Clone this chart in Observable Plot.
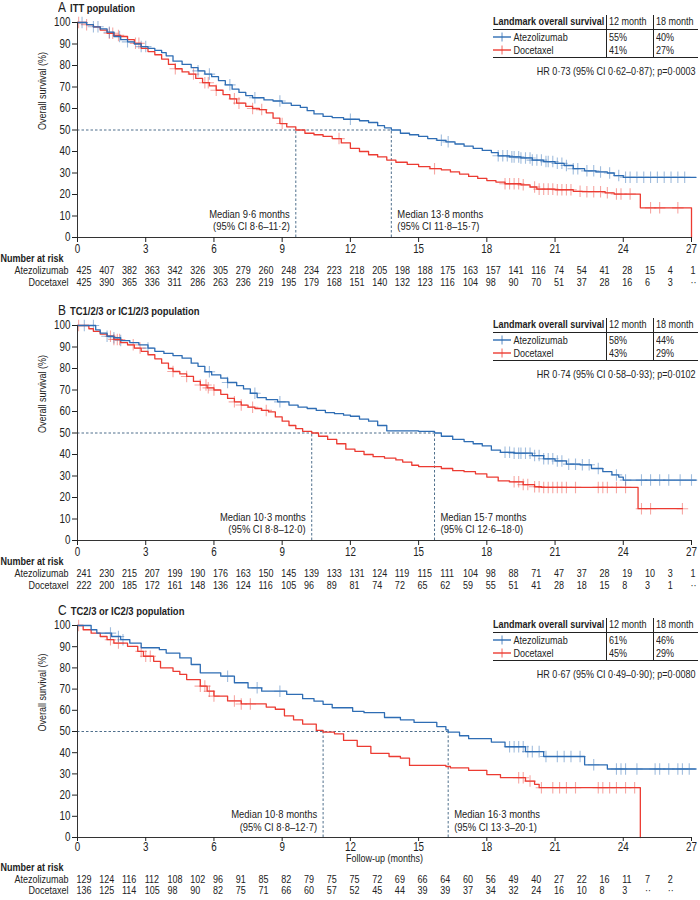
<!DOCTYPE html>
<html><head><meta charset="utf-8">
<script src="https://cdn.jsdelivr.net/npm/d3@7"></script>
<script src="https://cdn.jsdelivr.net/npm/@observablehq/plot@0.6"></script>
<style>
body{margin:0;background:#fff;}
#chart{width:700px;font-family:"Liberation Sans",Arial,sans-serif;color:#222;}
.panel{position:relative;width:700px;}
.panel > svg{display:block;}
.ttl{position:absolute;top:0;font-weight:bold;font-size:11.5px;line-height:14px;white-space:nowrap;transform:scaleX(0.82);transform-origin:left center;}
.ttl .lt{font-size:14.5px;font-weight:normal;margin-right:5px;}
.cell{position:absolute;font-size:11px;line-height:13px;white-space:nowrap;transform:scaleX(0.82);transform-origin:left center;}
.cell.r{transform-origin:right center;}
.cell svg{display:inline-block;}
.hl{position:absolute;background:#222;height:1px;}
.vl{position:absolute;background:#222;width:1px;}
</style></head><body><div id="chart"></div>
<script>
// ---------- shared categories / ticks ----------
const months = [0,1,2,3,4,5,6,7,8,9,10,11,12,13,14,15,16,17,18,19,20,21,22,23,24,25,26,27];
const xTicks = [0,3,6,9,12,15,18,21,24,27];
const yTicks = [0,10,20,30,40,50,60,70,80,90,100];
const arms = ["Atezolizumab","Docetaxel"];
const landmarkCols = ["12 month","18 month"];

// ---------- Panel A: ITT population ----------
const atezoCurveA = [[0,100],[0.4,99],[0.7,98],[1.0,97],[1.3,95.5],[1.6,93.5],[1.9,92],[2.2,91],[2.5,90],[2.8,88.8],[3.1,88],[3.4,87],[3.7,86],[3.9,84.5],[4.2,82],[4.6,80.5],[5.0,79],[5.3,77.5],[5.6,76],[5.9,74.8],[6.2,73],[6.5,71],[6.8,69],[7.1,67.5],[7.4,66],[7.7,65],[8.2,64],[8.6,63.5],[9.0,62.5],[9.4,61.5],[9.8,60.5],[10.1,59],[10.4,57.5],[10.8,56.3],[11.2,55.8],[11.7,55],[12.4,54.3],[12.8,53.5],[13.2,52],[13.5,51],[13.8,50],[14.2,48.5],[14.6,47.8],[15.0,47],[15.4,46],[15.8,45.2],[16.2,44.5],[16.6,43.5],[17.0,42.5],[17.4,41.5],[17.8,40.5],[18.2,39.5],[18.5,38],[19.0,37.5],[19.5,37],[20.0,36],[20.5,35.3],[21.0,34.5],[21.4,33.5],[21.8,32],[22.3,31],[22.8,30.5],[23.3,30],[23.6,28.8],[24.0,28],[27.2,28]];
const doceCurveA = [[0,100],[0.4,99],[0.7,98],[1.0,96.5],[1.3,95],[1.6,94],[1.9,93.5],[2.2,92],[2.5,90.3],[2.8,88],[3.1,86.5],[3.4,85],[3.7,83],[4.0,80.5],[4.3,78.5],[4.6,77],[4.9,76],[5.2,74],[5.5,72],[5.8,70.5],[6.1,68.5],[6.4,66.5],[6.7,64.5],[7.0,62.5],[7.4,61],[7.7,60],[8.0,59.5],[8.3,58],[8.6,55.5],[8.9,53],[9.2,51.5],[9.6,50],[10.0,48.5],[10.4,47.8],[10.8,47],[11.2,46],[11.6,44],[12.0,41.5],[12.4,40],[12.8,38.5],[13.2,37.5],[13.6,36],[14.0,35],[14.5,34],[15.0,33],[15.5,32],[16.0,31.5],[16.4,30.5],[16.8,29.5],[17.2,28.4],[17.6,27.5],[18.0,26.5],[18.4,25.8],[18.8,25],[19.5,24.5],[19.9,23.5],[20.2,22.5],[21.0,22.2],[21.8,21.5],[22.2,21.3],[23.2,20.8],[23.6,20.2],[24.75,13.8],[27.0,0]];
const atezoCensorA = [0.2,0.7,0.9,1.4,1.85,2.2,2.8,3.0,5.3,5.8,6.7,7.8,8.9,12.0,16.0,16.3,18.5,18.7,18.9,19.1,19.2,19.4,19.5,19.7,19.9,20.0,20.2,20.4,20.6,20.7,20.9,21.1,21.3,21.5,21.8,22.0,22.4,22.7,23.0,23.4,23.8,24.1,24.3,24.6,24.9,25.2,25.5,25.8,26.1,26.4,26.7];
const doceCensorA = [0.05,0.4,1.4,1.55,1.8,2.55,2.7,4.3,5.1,5.6,5.75,6.1,6.9,7.1,7.7,8.1,9.0,11.5,15.7,18.8,19.0,19.2,19.4,19.6,20.1,20.3,20.5,20.7,20.9,21.1,21.3,21.5,21.7,22.1,22.4,22.7,23.0,23.3,23.7,23.9,24.3,25.2,25.6,26.4];
const atezoNarA = ["425","407","382","363","342","326","305","279","260","248","234","223","218","205","198","188","175","163","157","141","116","74","54","41","28","15","4","1"];
const doceNarA = ["425","390","365","336","311","286","263","236","219","195","179","168","151","140","132","123","116","104","98","90","70","51","37","28","16","6","3","··"];
const medianA = [13.8, 9.6];
const medianTextA = [["Median 13·8 months","(95% CI 11·8–15·7)"],["Median 9·6 months","(95% CI 8·6–11·2)"]];
const landmarkA = [["55%","40%"],["41%","27%"]];
const hrA = "HR 0·73 (95% CI 0·62–0·87); p=0·0003";

// ---------- Panel B: TC1/2/3 or IC1/2/3 ----------
const atezoCurveB = [[0,100],[0.8,98],[1.0,96.5],[1.3,95],[1.6,94.3],[1.9,93],[2.3,92],[2.7,91],[3.1,89.5],[3.4,88],[3.8,87],[4.2,86],[4.6,84.8],[5.0,82.5],[5.3,81],[5.6,78.5],[5.9,77],[6.3,75.5],[6.6,73.5],[7.0,72],[7.3,70.5],[7.6,68.5],[7.9,66.5],[8.3,65.5],[8.8,64.5],[9.3,63],[9.7,62],[10.1,61.4],[10.5,60.5],[10.9,59.5],[11.3,59],[11.7,58.3],[12.0,57.8],[12.4,56.5],[12.8,55.5],[13.2,53.5],[13.6,51],[15.0,50.8],[15.7,50],[16.0,48.5],[16.5,47],[17.0,46],[17.4,45],[17.8,44],[18.2,42],[18.6,41],[19.2,40.6],[20.0,39.5],[20.5,38],[21.0,37],[21.5,35.5],[22.1,35.2],[22.6,33.5],[23.1,32],[23.5,30.5],[23.8,29.5],[24.0,28.1],[27.2,28.1]];
const doceCurveB = [[0,100],[0.5,98.5],[0.7,97.3],[1.0,96],[1.3,95],[1.6,93.5],[1.9,92],[2.2,91],[2.5,89.5],[2.8,88],[3.1,86.4],[3.4,84.5],[3.7,82.5],[4.0,80],[4.2,78.6],[4.5,77.5],[4.8,76.3],[5.1,74],[5.4,72.3],[5.7,71],[6.0,70],[6.3,68],[6.6,66.1],[6.9,64.5],[7.2,63],[7.5,62],[7.8,61.4],[8.1,60.5],[8.4,59.8],[8.7,57.5],[9.0,55.5],[9.3,53.5],[9.6,52],[9.9,50.8],[10.3,50],[10.6,48.5],[11.0,47],[11.4,45],[11.8,42.5],[12.2,41.5],[12.6,40],[13.0,39],[13.5,38.3],[14.0,37.5],[14.3,36.5],[14.7,35],[15.0,34.4],[16.0,33.5],[16.5,32.5],[17.0,32],[17.5,31],[18.0,29.5],[18.5,27.7],[19.0,27.3],[19.6,26],[20.1,25],[20.4,24.7],[24.65,14.8],[26.6,14.8]];
const atezoCensorB = [0.3,0.7,1.3,1.6,1.9,3.1,5.8,6.6,7.8,8.9,18.8,19.0,19.2,19.4,19.5,19.7,19.9,20.1,20.3,20.5,20.7,20.9,21.1,21.3,21.6,21.9,22.2,22.5,22.9,23.7,24.1,24.8,25.2,25.6,26.0,26.5,27.0];
const doceCensorB = [0.05,1.45,1.6,1.75,1.85,2.45,2.75,4.2,4.8,5.4,5.65,5.75,6.0,6.9,7.2,7.7,8.3,19.2,19.4,19.6,19.8,20.1,20.3,20.5,20.7,20.9,21.1,21.3,21.5,21.9,22.9,23.1,23.3,23.7,24.1,24.8,25.2,26.6];
const atezoNarB = ["241","230","215","207","199","190","176","163","150","145","139","133","131","124","119","115","111","104","98","88","71","47","37","28","19","10","3","1"];
const doceNarB = ["222","200","185","172","161","148","136","124","116","105","96","89","81","74","72","65","62","59","55","51","41","28","18","15","8","3","1","··"];
const medianB = [15.7, 10.3];
const medianTextB = [["Median 15·7 months","(95% CI 12·6–18·0)"],["Median 10·3 months","(95% CI 8·8–12·0)"]];
const landmarkB = [["58%","44%"],["43%","29%"]];
const hrB = "HR 0·74 (95% CI 0·58–0·93); p=0·0102";

// ---------- Panel C: TC2/3 or IC2/3 ----------
const atezoCurveC = [[0,100],[0.6,98],[0.85,96.4],[1.5,94.8],[1.9,93.3],[2.3,91.7],[2.8,89.5],[3.6,88.6],[3.9,87],[4.5,84.7],[5.0,81.6],[5.4,77.7],[6.3,76.1],[6.9,73],[7.5,70.6],[8.1,69],[9.2,67.5],[9.9,65.5],[10.4,64.3],[10.8,62.8],[11.2,61.2],[12.1,59.5],[12.6,58.9],[13.5,56.6],[14.2,55.5],[14.8,54.3],[15.8,52.3],[16.2,50.8],[16.3,49.7],[16.8,48],[17.2,46.6],[18.2,45],[18.8,42.8],[19.7,40.5],[20.5,38.2],[22.3,34.3],[23.3,32.3],[27.2,32.3]];
const doceCurveC = [[0,100],[0.25,98],[0.6,96.4],[1.0,94.8],[1.3,93.3],[1.6,91.7],[2.2,90.2],[2.65,87.8],[2.9,85.5],[3.35,83.1],[3.65,80],[4.2,78.4],[4.5,76.9],[4.8,74.5],[5.4,71.4],[5.7,69],[6.0,66.7],[6.6,64.4],[7.2,63],[8.3,61.5],[8.7,60.5],[9.1,57.4],[9.5,55.5],[9.9,53.5],[10.5,50.5],[10.8,49.7],[11.3,48.9],[11.7,45.8],[12.3,43],[12.9,39.7],[13.7,38.2],[14.2,37.4],[14.6,34],[16.2,33.5],[16.4,32.8],[17.2,31.7],[18.0,29.7],[18.6,28.2],[19.7,26.6],[20.1,25.1],[20.3,23.5],[24.75,0]];
const atezoCensorC = [1.45,1.8,2.0,6.6,7.9,8.9,19.0,19.2,19.4,19.6,19.8,20.0,20.3,20.6,21.1,21.4,21.7,22.1,22.7,23.7,23.9,24.1,24.6,25.4,25.6,26.0,26.4,26.6,26.9];
const doceCensorC = [0.05,1.45,1.8,2.8,3.0,3.2,5.4,5.6,5.8,6.0,6.9,7.2,7.6,19.4,19.6,19.9,20.4,20.9,21.2,21.5,21.9,22.9,23.1,23.4,23.7,24.1,24.5];
const atezoNarC = ["129","124","116","112","108","102","96","91","85","82","79","75","75","72","69","66","64","60","56","49","40","27","22","16","11","7","2"];
const doceNarC = ["136","125","114","105","98","90","82","75","71","66","60","57","52","45","44","39","39","37","34","32","24","16","10","8","3","··","··"];
const medianC = [16.3, 10.8];
const medianTextC = [["Median 16·3 months","(95% CI 13·3–20·1)"],["Median 10·8 months","(95% CI 8·8–12·7)"]];
const landmarkC = [["61%","46%"],["45%","29%"]];
const hrC = "HR 0·67 (95% CI 0·49–0·90); p=0·0080";

const panels = [
  {letter:"A", title:"ITT population", atezo:atezoCurveA, doce:doceCurveA, ac:atezoCensorA, dc:doceCensorA, an:atezoNarA, dn:doceNarA, med:medianA, medText:medianTextA, lm:landmarkA, hr:hrA, xlabel:false, h:303, fh:215},
  {letter:"B", title:"TC1/2/3 or IC1/2/3 population", atezo:atezoCurveB, doce:doceCurveB, ac:atezoCensorB, dc:doceCensorB, an:atezoNarB, dn:doceNarB, med:medianB, medText:medianTextB, lm:landmarkB, hr:hrB, xlabel:false, h:300, fh:215},
  {letter:"C", title:"TC2/3 or IC2/3 population", atezo:atezoCurveC, doce:doceCurveC, ac:atezoCensorC, dc:doceCensorC, an:atezoNarC, dn:doceNarC, med:medianC, medText:medianTextC, lm:landmarkC, hr:hrC, xlabel:true, h:297, fh:212}
];

const BLUE = "#2e6db4", RED = "#ec3b32", DASH = "#4f6f8c";
const FONT = '"Liberation Sans",Arial,sans-serif';
const K = 0.82; // horizontal condensing of all text

function survAt(curve, t) {
  let s = curve[0][1];
  for (const [tt, ss] of curve) { if (tt <= t) s = ss; else break; }
  return s;
}
function condense(svg) {
  svg.querySelectorAll("text").forEach(el => {
    let x = 0, y = 0;
    const xa = el.getAttribute("x"), ya = el.getAttribute("y");
    if (xa != null && xa !== "" && !isNaN(+xa)) { x = +xa; el.removeAttribute("x"); }
    if (ya != null && ya !== "" && !isNaN(+ya)) { y = +ya; el.removeAttribute("y"); }
    const tr = el.getAttribute("transform") || "";
    el.setAttribute("transform", `${tr} translate(${x},${y}) scale(${K},1)`);
  });
}

const root = document.getElementById("chart");
for (const p of panels) {
  const toPts = c => c.map(([t, s]) => ({t, s}));
  const cens = (c, ts) => ts.map(t => ({t, s: survAt(c, t)}));
  const nar = arr => arr.map((n, i) => ({m: months[i], n}));
  const mt = 22;
  const mb = p.h - mt - p.fh;
  const rowA = p.xlabel ? 45 : 36, rowD = p.xlabel ? 56 : 48, narHead = p.xlabel ? 33.5 : 24;
  const marks = [
    Plot.ruleY([50], {x1: 0, x2: Math.max(...p.med), stroke: DASH, strokeDasharray: "2.5,2", strokeWidth: 1}),
    Plot.ruleX(p.med, {y1: 0, y2: 50, stroke: DASH, strokeDasharray: "2.5,2", strokeWidth: 1}),
    Plot.dot(cens(p.doce, p.dc), {x: "t", y: "s", symbol: "plus", r: 3.8, stroke: RED, strokeOpacity: 0.45, strokeWidth: 1.1}),
    Plot.dot(cens(p.atezo, p.ac), {x: "t", y: "s", symbol: "plus", r: 3.8, stroke: BLUE, strokeOpacity: 0.45, strokeWidth: 1.1}),
    Plot.line(toPts(p.doce), {x: "t", y: "s", curve: "step-after", stroke: RED, strokeWidth: 1.3}),
    Plot.line(toPts(p.atezo), {x: "t", y: "s", curve: "step-after", stroke: BLUE, strokeWidth: 1.3}),
    // median annotations
    Plot.text([p.med[1]], {x: d => d, y: 11, text: () => p.medText[1][0], textAnchor: "end", dx: -6, fontSize: 11.5}),
    Plot.text([p.med[1]], {x: d => d, y: 5, text: () => p.medText[1][1], textAnchor: "end", dx: -6, fontSize: 11.5}),
    Plot.text([p.med[0]], {x: d => d, y: 11, text: () => p.medText[0][0], textAnchor: "start", dx: 6, fontSize: 11.5}),
    Plot.text([p.med[0]], {x: d => d, y: 5, text: () => p.medText[0][1], textAnchor: "start", dx: 6, fontSize: 11.5}),
    // axes
    Plot.ruleX([0], {stroke: "#333"}),
    Plot.ruleY([0], {stroke: "#333"}),
    Plot.axisX({ticks: xTicks, tickSize: p.xlabel ? 4 : 5, tickPadding: p.xlabel ? 1 : 2, fontSize: 12, label: null}),
    Plot.axisY({ticks: yTicks, tickSize: 5, tickPadding: 2, fontSize: 12, label: null}),
    Plot.text([50], {y: d => d, text: () => "Overall survival (%)", frameAnchor: "left", dx: -35, rotate: -90, fontSize: 11}),
    // number at risk
    Plot.text(["Number at risk"], {frameAnchor: "bottom-left", dx: -77, dy: narHead, textAnchor: "start", fontWeight: "bold", fontSize: 11}),
    Plot.text([arms[0]], {frameAnchor: "bottom-left", dx: -9, dy: rowA, textAnchor: "end", fontSize: 11}),
    Plot.text([arms[1]], {frameAnchor: "bottom-left", dx: -9, dy: rowD, textAnchor: "end", fontSize: 11}),
    Plot.text(nar(p.an), {x: "m", text: "n", frameAnchor: "bottom", dy: rowA, textAnchor: "start", dx: -1, fontSize: 11}),
    Plot.text(nar(p.dn), {x: "m", text: "n", frameAnchor: "bottom", dy: rowD, textAnchor: "start", dx: -1, fontSize: 11})
  ];
  if (p.xlabel) marks.push(Plot.text([13.5], {x: d => d, text: () => "Follow-up (months)", frameAnchor: "bottom", dy: 24.5, fontSize: 11}));
  const svg = Plot.plot({
    width: 700, height: p.h,
    marginLeft: 77, marginRight: 9, marginTop: mt, marginBottom: mb,
    x: {domain: [0, 27]},
    y: {domain: [0, 100]},
    style: {fontFamily: FONT, fontSize: "11px", color: "#222", background: "white", overflow: "visible"},
    marks
  });
  condense(svg);
  const div = document.createElement("div");
  div.className = "panel";
  div.style.height = p.h + "px";
  div.appendChild(svg);
  // title
  const t = document.createElement("div");
  t.className = "ttl";
  t.style.left = "58px";
  t.innerHTML = `<span class="lt">${p.letter}</span>${p.title}`;
  div.appendChild(t);
  // landmark table
  const add = (cls, css, html) => { const e = document.createElement("div"); e.className = cls; Object.assign(e.style, css); if (html != null) e.innerHTML = html; div.appendChild(e); };
  add("cell", {left: "493px", top: "15px", fontWeight: "bold"}, "Landmark overall survival");
  add("cell", {left: "609px", top: "15px"}, landmarkCols[0]);
  add("cell", {left: "656px", top: "15px"}, landmarkCols[1]);
  add("hl", {left: "493px", top: "29px", width: "205px"});
  add("hl", {left: "493px", top: "57px", width: "205px"});
  add("vl", {left: "606px", top: "15px", height: "42px"});
  add("vl", {left: "653px", top: "15px", height: "42px"});
  const sw = c => `<svg width="22" height="10" style="vertical-align:-1px;margin-right:3px"><line x1="0" x2="22" y1="5" y2="5" stroke="${c}" stroke-width="1.4"/><line x1="11" x2="11" y1="0.5" y2="9.5" stroke="${c}" stroke-width="1.2" stroke-opacity="0.8"/></svg>`;
  add("cell", {left: "493px", top: "31px"}, sw(BLUE) + arms[0]);
  add("cell", {left: "493px", top: "44px"}, sw(RED) + arms[1]);
  add("cell", {left: "609px", top: "31px"}, p.lm[0][0]);
  add("cell", {left: "656px", top: "31px"}, p.lm[0][1]);
  add("cell", {left: "609px", top: "44px"}, p.lm[1][0]);
  add("cell", {left: "656px", top: "44px"}, p.lm[1][1]);
  add("cell r", {right: "4px", top: "65px"}, p.hr);
  root.appendChild(div);
}
</script></body></html>
